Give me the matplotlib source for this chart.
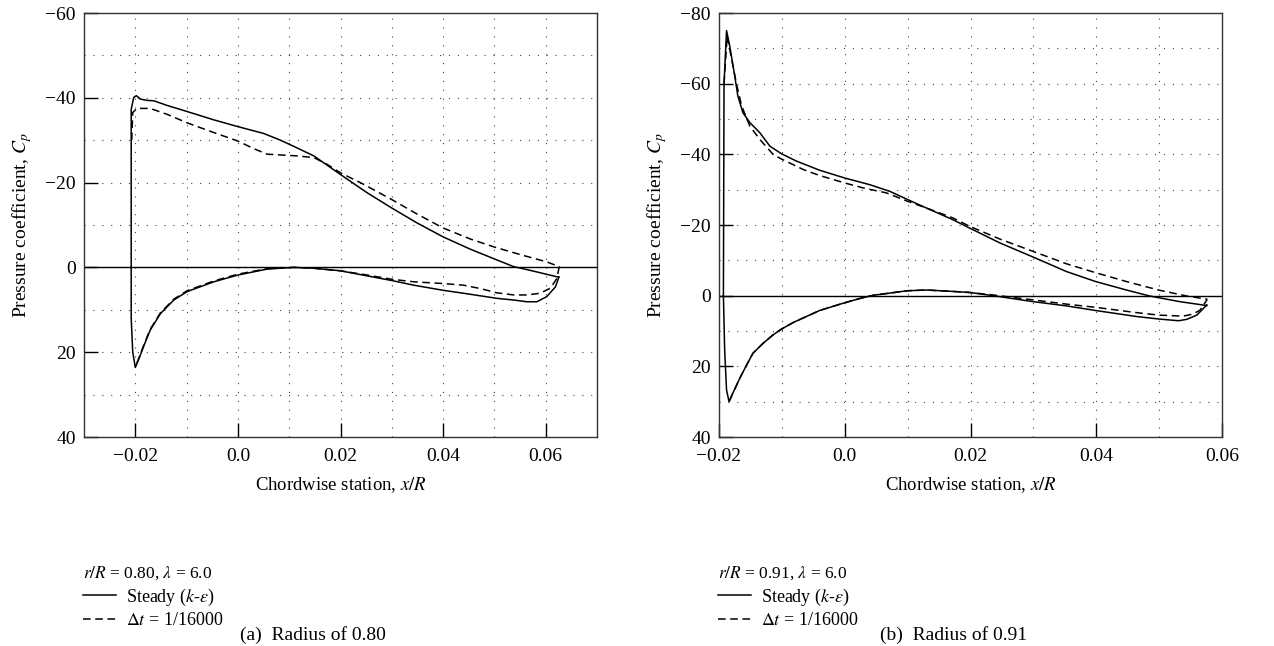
import numpy as np
import matplotlib
matplotlib.use("Agg")
from matplotlib import pyplot as plt
from matplotlib.ticker import MultipleLocator

plt.rcParams['font.family'] = ['Liberation Serif', 'DejaVu Serif']
plt.rcParams['mathtext.fontset'] = 'stix'
plt.rcParams['font.size'] = 12

# ---- r/R = 0.80 ----
a_steady_x = [-0.0208, -0.0208, -0.0203, -0.0198, -0.0190, -0.0178, -0.0164, -0.0138, -0.0100,
              -0.0047, 0.0, 0.005, 0.0083, 0.0115, 0.0148, 0.020, 0.0252, 0.030, 0.0349, 0.040,
              0.0453, 0.050, 0.0537, 0.057, 0.0625,
              0.0626, 0.0619, 0.0602, 0.0583, 0.0563, 0.0538, 0.0505, 0.0440, 0.040, 0.0343,
              0.030, 0.0252, 0.020, 0.0148, 0.0109, 0.0057, 0.0, -0.0047, -0.0099, -0.0125,
              -0.0151, -0.0171, -0.0184, -0.0194, -0.0200, -0.0205, -0.0208, -0.0208]
a_steady_cp = [0.0, -37.3, -40.1, -40.5, -39.7, -39.4, -39.3, -38.2, -36.8,
               -34.8, -33.2, -31.6, -30.0, -28.2, -26.3, -21.9, -17.6, -14.0, -10.5, -7.2,
               -4.3, -2.0, -0.2, 0.7, 2.3,
               2.2, 4.6, 6.9, 8.1, 8.1, 7.7, 7.3, 6.1, 5.4, 4.2,
               3.1, 2.0, 0.8, 0.2, 0.0, 0.4, 1.8, 3.4, 5.7, 7.7,
               10.9, 14.8, 18.7, 21.9, 23.6, 20.0, 12.0, 0.0]
a_dt_x = [-0.0207, -0.0205, -0.0197, -0.0171, -0.0138, -0.0099, -0.0047, 0.0, 0.0031, 0.0057,
          0.0115, 0.0148, 0.0174, 0.020, 0.0245, 0.030, 0.0349, 0.040, 0.0453, 0.050, 0.0551,
          0.0602, 0.0626,
          0.0626, 0.0622, 0.0609, 0.0589, 0.0563, 0.0538, 0.0505, 0.0473, 0.0440, 0.040,
          0.0343, 0.030, 0.0252, 0.020, 0.0148, 0.0109, 0.0057, 0.0, -0.0047, -0.0099, -0.0125,
          -0.0151, -0.0171, -0.0184, -0.0194, -0.0200]
a_dt_cp = [-30.0, -36.5, -37.5, -37.5, -36.1, -34.1, -31.8, -29.8, -28.0, -26.7,
           -26.3, -25.9, -24.3, -22.3, -19.6, -16.0, -12.6, -9.3, -6.7, -4.8, -3.0,
           -1.3, -0.2,
           0.0, 2.6, 4.9, 6.1, 6.5, 6.5, 6.0, 5.0, 4.2, 3.8,
           3.4, 2.8, 1.8, 0.8, 0.2, 0.0, 0.3, 1.6, 3.2, 5.5, 7.5,
           10.7, 14.6, 18.5, 21.7, 23.4]

# ---- r/R = 0.91 ----
b_steady_x = [-0.0193, -0.0192, -0.0188, -0.0183, -0.0175, -0.0170, -0.0162, -0.0151, -0.0135,
              -0.0119, -0.0101, -0.0077, -0.0040, 0.0, 0.0040, 0.0072, 0.0100, 0.0130, 0.0172,
              0.0199, 0.0247, 0.0300, 0.0353, 0.0399, 0.0448, 0.0485, 0.0533, 0.0576,
              0.0576, 0.0560, 0.0544, 0.0531, 0.0499, 0.0464, 0.0399, 0.0353, 0.0300, 0.0236,
              0.0199, 0.0172, 0.0130, 0.0100, 0.0045, 0.0024, 0.0, -0.0040, -0.0061, -0.0082,
              -0.0101, -0.0114, -0.0130, -0.0146, -0.0156, -0.0167, -0.0178, -0.0184, -0.0188,
              -0.0191, -0.0193]
b_steady_cp = [0.0, -60.0, -75.0, -70.7, -62.2, -56.5, -51.8, -49.0, -46.1,
               -42.3, -40.2, -38.1, -35.5, -33.3, -31.4, -29.5, -27.2, -24.8, -21.5,
               -19.1, -14.9, -10.9, -6.8, -4.0, -1.6, 0.1, 1.7, 2.8,
               2.6, 5.5, 6.7, 7.1, 6.6, 5.9, 4.2, 2.9, 1.7, 0.0,
               -0.9, -1.2, -1.6, -1.4, -0.1, 0.8, 2.0, 4.2, 5.9, 7.6,
               9.5, 11.1, 13.5, 16.3, 19.6, 23.4, 27.6, 30.0, 26.7,
               15.4, 0.0]
b_dt_x = [-0.0192, -0.0187, -0.0180, -0.0172, -0.0164, -0.0151, -0.0135, -0.0114, -0.0101,
          -0.0066, -0.0040, 0.0, 0.0029, 0.0066, 0.0100, 0.0130, 0.0172, 0.0199, 0.0247,
          0.0300, 0.0353, 0.0399, 0.0448, 0.0499, 0.0544, 0.0576,
          0.0576, 0.0565, 0.0554, 0.0538, 0.0499, 0.0464, 0.0399, 0.0353, 0.0300, 0.0236,
          0.0199, 0.0172, 0.0130, 0.0100, 0.0045, 0.0024, 0.0, -0.0040, -0.0061, -0.0082,
          -0.0101, -0.0114, -0.0130, -0.0146, -0.0156, -0.0167, -0.0178, -0.0184]
b_dt_cp = [-60.0, -73.6, -67.0, -59.8, -53.7, -48.0, -44.2, -40.0, -38.7,
           -35.7, -34.0, -31.9, -30.5, -29.1, -26.7, -24.8, -22.0, -19.6, -16.0,
           -12.5, -9.0, -6.5, -4.0, -1.6, 0.1, 1.0,
           1.2, 4.1, 5.2, 5.8, 5.5, 4.8, 3.3, 2.4, 1.2, -0.2,
           -0.9, -1.2, -1.6, -1.4, -0.1, 0.8, 2.0, 4.2, 5.9, 7.6,
           9.5, 11.1, 13.5, 16.3, 19.6, 23.4, 27.6, 30.0]

xtick_vals = [-0.02, 0.0, 0.02, 0.04, 0.06]
xtick_text = ["\u22120.02", "0.0", "0.02", "0.04", "0.06"]

panels = [
    dict(sx=a_steady_x, scp=a_steady_cp, dx=a_dt_x, dcp=a_dt_cp,
         xlim=(-0.03, 0.07), ylim=(40, -60),
         title="$r/R$ = 0.80, $\\lambda$ = 6.0", caption="(a)  Radius of 0.80",
         rect=[84 / 1274, 1 - 437 / 646, 513 / 1274, 424 / 646], capx=313 / 1274),
    dict(sx=b_steady_x, scp=b_steady_cp, dx=b_dt_x, dcp=b_dt_cp,
         xlim=(-0.02, 0.06), ylim=(40, -80),
         title="$r/R$ = 0.91, $\\lambda$ = 6.0", caption="(b)  Radius of 0.91",
         rect=[719 / 1274, 1 - 437 / 646, 503 / 1274, 424 / 646], capx=954 / 1274),
]

fig = plt.figure(figsize=(12.74, 6.46), dpi=100)

for p in panels:
    ax = fig.add_axes(p['rect'])
    l1, = ax.plot(p['sx'], p['scp'], 'k-', lw=1.1, label="Steady ($k$-$\\varepsilon$)")
    l2, = ax.plot(p['dx'], p['dcp'], 'k', ls=(0, (5, 3)), lw=1.1, label="$\\Delta t$ = 1/16000")
    ax.axhline(0, color='k', lw=1.0)
    ax.set_xlim(*p['xlim'])
    ax.set_ylim(*p['ylim'])
    ax.set_xticks(xtick_vals)
    ax.set_xticklabels(xtick_text)
    ax.xaxis.set_minor_locator(MultipleLocator(0.01))
    ax.yaxis.set_major_locator(MultipleLocator(20))
    ax.yaxis.set_minor_locator(MultipleLocator(10))
    ax.grid(True, which='both', color='#444444', lw=0.8, ls=(0, (1, 7)))
    ax.tick_params(which='major', direction='in', length=10, width=1, labelsize=14, pad=6)
    ax.tick_params(axis='x', which='major', pad=8)
    ax.tick_params(which='minor', length=0)
    for s in ax.spines.values():
        s.set_color('#333333')
        s.set_linewidth(1.0)
    ax.set_xlabel("Chordwise station, $x/R$", fontsize=13.5, labelpad=7)
    ax.set_ylabel("Pressure coefficient, $C_p$", fontsize=14, labelpad=8)
    leg = ax.legend(handles=[l1, l2], title=p['title'], loc='upper left',
                    bbox_to_anchor=(-0.002, -0.3), frameon=False, fontsize=13,
                    title_fontsize=12.5, handlelength=1.85, handletextpad=0.55,
                    labelspacing=0.25, borderpad=0, borderaxespad=0, alignment='left')
    fig.text(p['capx'], 11 / 646, p['caption'], ha='center', va='center', fontsize=14)

fig.savefig("out.png", dpi=100)
